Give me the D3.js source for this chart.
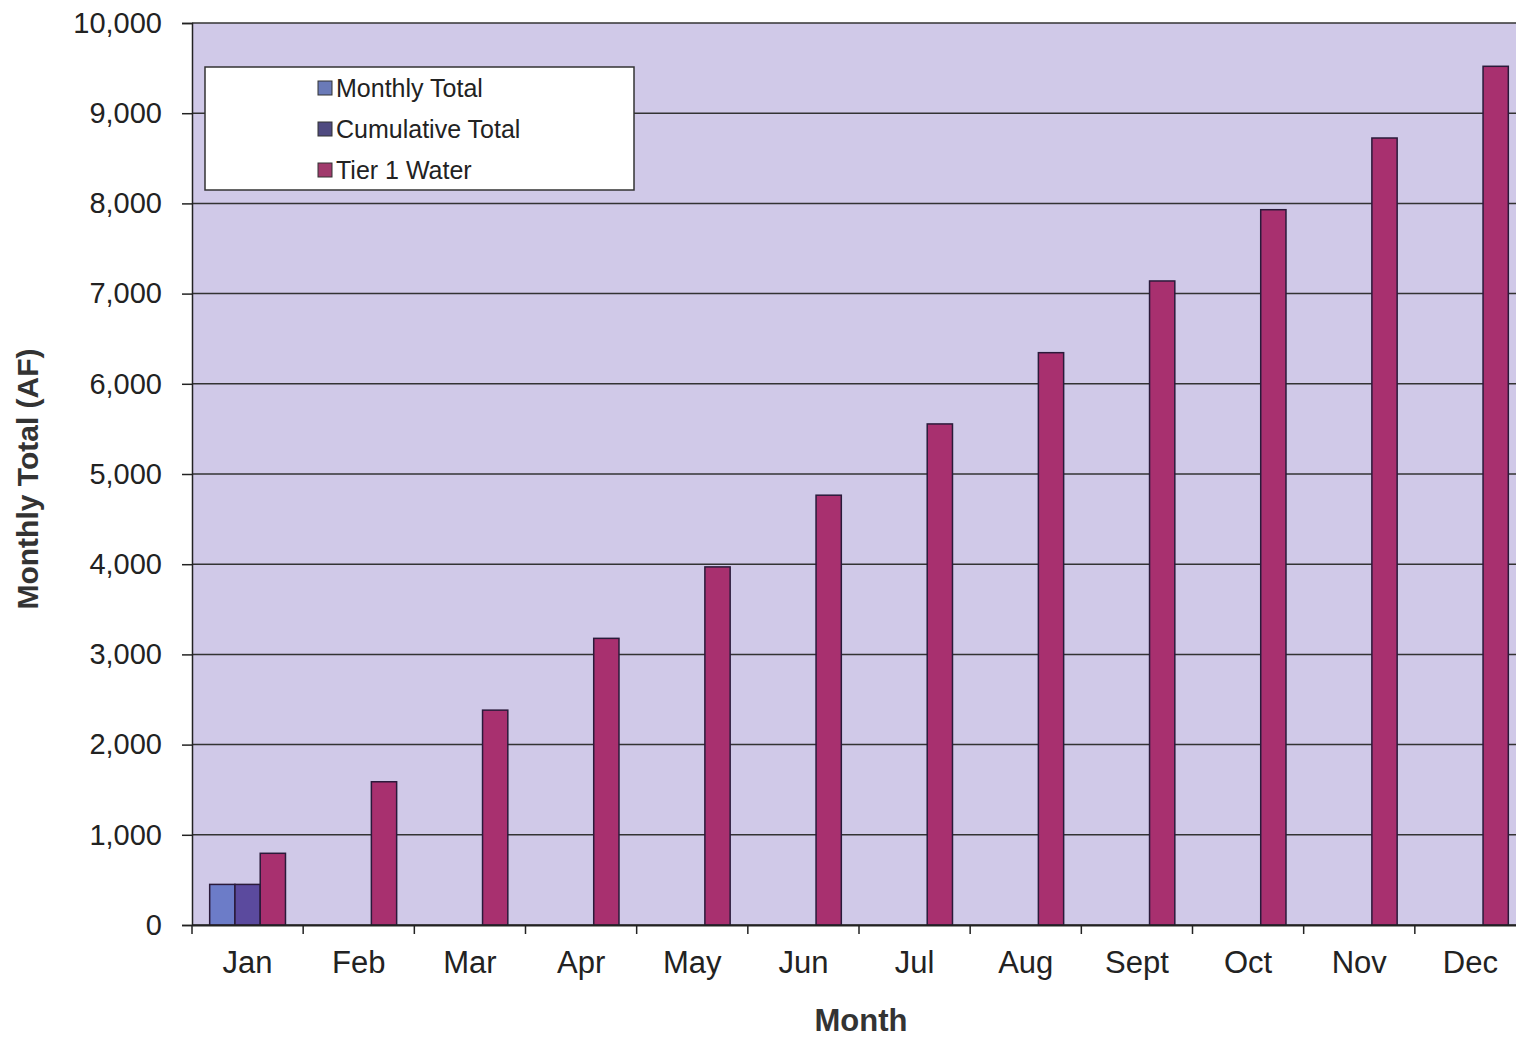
<!DOCTYPE html>
<html>
<head>
<meta charset="utf-8">
<script src="https://cdn.jsdelivr.net/npm/d3@7"></script>
<style>
	body { margin: 0; background: #fff; }
	text { font-family: "Liberation Sans", Arial, sans-serif; fill: #222; }
</style>
</head>
<body>
<script>
//chart data
var months = ["Jan", "Feb", "Mar", "Apr", "May", "Jun", "Jul", "Aug", "Sept", "Oct", "Nov", "Dec"];
var seriesNames = ["Monthly Total", "Cumulative Total", "Tier 1 Water"];
var monthlyTotal = [450, 0, 0, 0, 0, 0, 0, 0, 0, 0, 0, 0];
var cumulativeTotal = [450, 0, 0, 0, 0, 0, 0, 0, 0, 0, 0, 0];
var tier1Water = [795, 1588, 2382, 3178, 3970, 4765, 5555, 6345, 7140, 7930, 8725, 9520];
var yTicks = [0, 1000, 2000, 3000, 4000, 5000, 6000, 7000, 8000, 9000, 10000];

window.onload = function(){
	var w = 1516, h = 1038;
	var left = 192, right = 1526, top = 23, bottom = 925;

	var svg = d3.select("body")
		.append("svg")
		.attr("width", w)
		.attr("height", h);

	//plot background
	svg.append("rect")
		.attr("x", left)
		.attr("y", top)
		.attr("width", right - left)
		.attr("height", bottom - top)
		.style("fill", "#d0c9e8");

	var x = d3.scaleBand()
		.domain(months)
		.range([left, right]);

	var y = d3.scaleLinear()
		.domain([0, 10000])
		.range([bottom, top]);

	//gridlines
	svg.selectAll(".grid")
		.data(yTicks)
		.enter()
		.append("line")
		.attr("class", "grid")
		.attr("x1", left)
		.attr("x2", right)
		.attr("y1", function(d){ return y(d); })
		.attr("y2", function(d){ return y(d); })
		.style("stroke", "#333")
		.style("stroke-width", 1.5);

	//bars: three series side by side inside each month
	var colors = ["#6c7cc8", "#5b4a9e", "#a8306f"];
	var series = [monthlyTotal, cumulativeTotal, tier1Water];
	var x1 = d3.scaleBand()
		.domain([0, 1, 2])
		.range([0, x.bandwidth()])
		.paddingOuter(0.7)
		.paddingInner(0);

	series.forEach(function(vals, s){
		svg.selectAll(".bar" + s)
			.data(vals.map(function(v, i){ return {m: months[i], v: v}; }))
			.enter()
			.filter(function(d){ return d.v > 0; })
			.append("rect")
			.attr("class", "bar" + s)
			.attr("x", function(d){ return x(d.m) + x1(s); })
			.attr("y", function(d){ return y(d.v); })
			.attr("width", x1.bandwidth())
			.attr("height", function(d){ return bottom - y(d.v); })
			.style("fill", colors[s])
			.style("stroke", "#2a1a3a")
			.style("stroke-width", 1.5);
	});

	//y axis
	var yAxis = d3.axisLeft(y)
		.tickValues(yTicks)
		.tickFormat(d3.format(","))
		.tickSize(10)
		.tickPadding(20);
	var ya = svg.append("g")
		.attr("transform", "translate(" + left + ",0)")
		.call(yAxis);
	ya.selectAll("text").style("font-size", "29px").style("fill", "#222");
	ya.selectAll("line, path").style("stroke", "#222").style("stroke-width", 1.5);

	//x axis
	var xAxis = d3.axisBottom(x).tickSize(0).tickPadding(26);
	var xa = svg.append("g")
		.attr("transform", "translate(0," + bottom + ")")
		.call(xAxis);
	xa.selectAll("text").style("font-size", "31px").style("fill", "#222");
	xa.select("path").style("stroke", "#222").style("stroke-width", 2);
	//category separator ticks
	xa.selectAll(".sep")
		.data(months)
		.enter()
		.append("line")
		.attr("class", "sep")
		.attr("x1", function(d){ return x(d); })
		.attr("x2", function(d){ return x(d); })
		.attr("y1", 0)
		.attr("y2", 9)
		.style("stroke", "#222")
		.style("stroke-width", 1.5);

	//axis titles
	svg.append("text")
		.attr("transform", "translate(38," + ((top + bottom) / 2 + 5) + ") rotate(-90)")
		.attr("text-anchor", "middle")
		.style("font-size", "30px")
		.style("font-weight", "bold")
		.style("fill", "#333")
		.text("Monthly Total (AF)");

	svg.append("text")
		.attr("x", 861)
		.attr("y", 1031)
		.attr("text-anchor", "middle")
		.style("font-size", "31px")
		.style("font-weight", "bold")
		.style("fill", "#333")
		.text("Month");

	//legend
	var legend = svg.append("g").attr("transform", "translate(205,67)");
	legend.append("rect")
		.attr("width", 429)
		.attr("height", 123)
		.style("fill", "#fff")
		.style("stroke", "#333")
		.style("stroke-width", 1.5);
	var swatchColors = ["#6a7ab8", "#4f4a80", "#a03a6c"];
	var items = legend.selectAll(".item")
		.data(seriesNames)
		.enter()
		.append("g")
		.attr("class", "item")
		.attr("transform", function(d, i){ return "translate(113," + (21 + i * 41) + ")"; });
	items.append("rect")
		.attr("x", 0)
		.attr("y", -7)
		.attr("width", 14)
		.attr("height", 14)
		.style("fill", function(d, i){ return swatchColors[i]; })
		.style("stroke", "#333")
		.style("stroke-width", 1);
	items.append("text")
		.attr("x", 18)
		.attr("y", 9)
		.style("font-size", "25px")
		.text(function(d){ return d; });
};
</script>
</body>
</html>
